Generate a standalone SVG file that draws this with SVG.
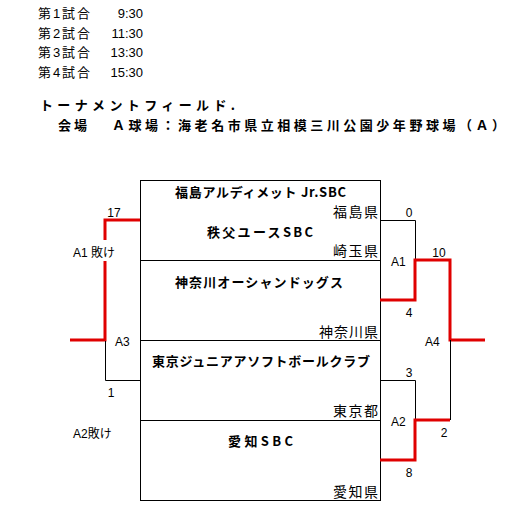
<svg xmlns="http://www.w3.org/2000/svg" width="521" height="521" viewBox="0 0 521 521">
<style>
text{font-family:"Liberation Sans","Noto Sans CJK JP",sans-serif;fill:#000}
.s{font-size:13px}
.b{font-size:13px;font-weight:bold;font-family:"Noto Sans CJK JP","Liberation Sans",sans-serif}
.t{font-size:13px;font-weight:bold;font-family:"Noto Sans CJK JP",sans-serif}
.p{font-size:14px;font-family:"Noto Sans CJK JP",sans-serif}
.n{font-size:12px;text-anchor:middle}
.l{font-size:12px}
.k{fill:none;stroke:#000;stroke-width:1}
.r{fill:none;stroke:#e00000;stroke-width:3}
</style>
<rect width="521" height="521" fill="#fff"/>
<g id="schedule">
<text class="s" x="38" y="18" textLength="52" lengthAdjust="spacing">第1試合</text><text class="s" x="143" y="18" text-anchor="end">9:30</text>
<text class="s" x="38" y="38" textLength="52" lengthAdjust="spacing">第2試合</text><text class="s" x="143" y="38" text-anchor="end">11:30</text>
<text class="s" x="38" y="57" textLength="52" lengthAdjust="spacing">第3試合</text><text class="s" x="143" y="57" text-anchor="end">13:30</text>
<text class="s" x="38" y="77" textLength="52" lengthAdjust="spacing">第4試合</text><text class="s" x="143" y="77" text-anchor="end">15:30</text>
</g>
<g id="header">
<text class="b" x="40" y="110" textLength="195" lengthAdjust="spacing">トーナメントフィールド.</text>
<text class="b" x="58" y="130" textLength="29" lengthAdjust="spacing">会場</text>
<text class="b" x="112" y="130" textLength="393" lengthAdjust="spacing">Ａ球場：海老名市県立相模三川公園少年野球場（Ａ）</text>
</g>
<g id="boxes">
<rect class="k" x="140.5" y="180.5" width="240" height="320"/>
<line class="k" x1="140" y1="260.5" x2="381" y2="260.5"/>
<line class="k" x1="140" y1="340.5" x2="381" y2="340.5"/>
<line class="k" x1="140" y1="420.5" x2="381" y2="420.5"/>
</g>
<g id="team-fukushima">
<text class="t" x="175" y="197" textLength="171" lengthAdjust="spacing">福島アルディメット Jr.SBC</text>
<text class="p" x="333" y="217" textLength="45" lengthAdjust="spacing">福島県</text>
</g>
<g id="team-chichibu">
<text class="t" x="207" y="237" textLength="106" lengthAdjust="spacing">秩父ユースSBC</text>
<text class="p" x="333" y="256" textLength="45" lengthAdjust="spacing">崎玉県</text>
</g>
<g id="team-kanagawa">
<text class="t" x="175" y="287" textLength="168" lengthAdjust="spacing">神奈川オーシャンドッグス</text>
<text class="p" x="319" y="337" textLength="59" lengthAdjust="spacing">神奈川県</text>
</g>
<g id="team-tokyo">
<text class="t" x="152" y="366" textLength="218" lengthAdjust="spacing">東京ジュニアアソフトボールクラブ</text>
<text class="p" x="333" y="416" textLength="45" lengthAdjust="spacing">東京都</text>
</g>
<g id="team-aichi">
<text class="t" x="228" y="446" textLength="65" lengthAdjust="spacing">愛知SBC</text>
<text class="p" x="333" y="497" textLength="45" lengthAdjust="spacing">愛知県</text>
</g>
<g id="connectors">
<polyline class="k" points="380,220.5 415.5,220.5 415.5,260"/>
<polyline class="r" points="380,300 415,300 415,260 450,260 450,340 485,340"/>
<polyline class="k" points="380,380.5 415.5,380.5 415.5,420"/>
<polyline class="r" points="380,460 415,460 415,420 450,420"/>
<line class="k" x1="450.5" y1="340" x2="450.5" y2="420"/>
<polyline class="r" points="140,220 105,220 105,240"/>
<polyline class="r" points="105,261 105,340 70,340"/>
<polyline class="k" points="105.5,341 105.5,380.5 140,380.5"/>
</g>
<g id="labels">
<text class="n" x="114" y="217">17</text>
<text class="l" x="73" y="257">A1 敗け</text>
<text class="l" x="115" y="346">A3</text>
<text class="n" x="111" y="397">1</text>
<text class="l" x="73" y="438">A2敗け</text>
<text class="n" x="409" y="217">0</text>
<text class="l" x="391" y="266">A1</text>
<text class="n" x="409" y="317">4</text>
<text class="n" x="439" y="257">10</text>
<text class="l" x="425" y="346">A4</text>
<text class="n" x="409" y="377">3</text>
<text class="l" x="391" y="426">A2</text>
<text class="n" x="444" y="437">2</text>
<text class="n" x="409" y="477">8</text>
</g>
</svg>
